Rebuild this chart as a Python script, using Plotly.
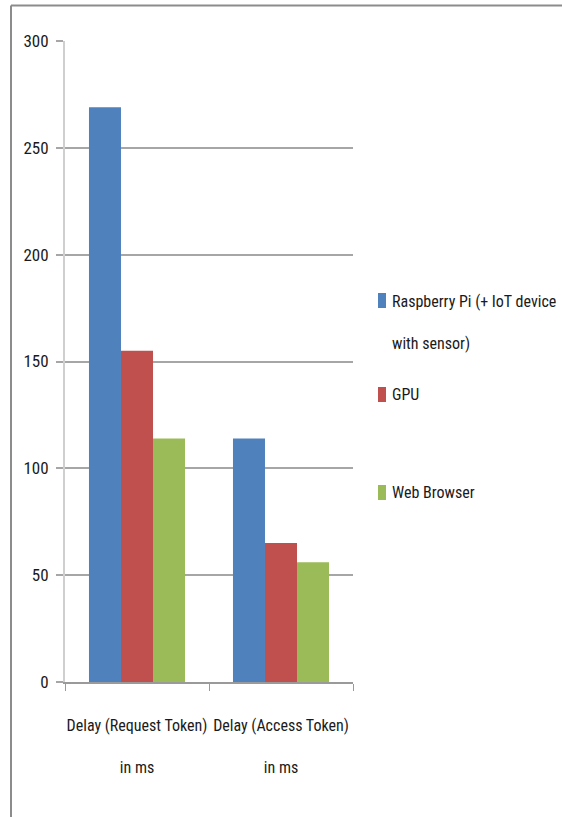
import plotly.graph_objects as go

# Delay measurements (ms) per token phase and client type
categories = ["Delay (Request Token)<br><br>in ms", "Delay (Access Token)<br><br>in ms"]
series_names = ["Raspberry Pi (+ IoT device<br><br>with sensor)", "GPU", "Web Browser"]
raspberry_pi = [269, 114]
gpu = [155, 65]
web_browser = [114, 56]
colors = ["#4F81BD", "#C0504D", "#9BBB59"]
y_ticks = [0, 50, 100, 150, 200, 250, 300]

W, H = 562, 817
L, R, T, B = 65, 209, 41, 135

font = "Roboto Condensed, Liberation Sans Narrow, sans-serif"
text_color = "#1a1a1a"


def px_to_paper_x(px):
    return (px - L) / (W - L - R)


def px_to_paper_y(py):
    return (H - B - py) / (H - B - T)


fig = go.Figure()
for name, vals, col in zip(series_names, [raspberry_pi, gpu, web_browser], colors):
    fig.add_trace(go.Bar(
        x=categories, y=vals, name=name, showlegend=False,
        marker=dict(color=col, line=dict(width=0)),
    ))

# Legend drawn at the right of the plot: colour key + label per series
legend_rows_px = [322, 394.5, 492.5]     # vertical centre of each label block
legend_keys_px = [300.5, 394.5, 492.5]   # vertical centre of each colour key
for name, col, row, key in zip(series_names, colors, legend_rows_px, legend_keys_px):
    fig.add_shape(type="rect", xref="paper", yref="paper",
                  x0=px_to_paper_x(378), x1=px_to_paper_x(386),
                  y0=px_to_paper_y(key + 7.5), y1=px_to_paper_y(key - 7.5),
                  fillcolor=col, line=dict(width=0))
    fig.add_annotation(xref="paper", yref="paper",
                       x=px_to_paper_x(390), y=px_to_paper_y(row),
                       xanchor="left", yanchor="middle", align="left",
                       text=name, showarrow=False,
                       font=dict(family=font, size=16, color=text_color))

# Outer frame lines (top and left edges)
frame = dict(color="#8c8c8c", width=2)
fig.add_shape(type="line", xref="paper", yref="paper",
              x0=px_to_paper_x(11), x1=px_to_paper_x(562),
              y0=px_to_paper_y(5.5), y1=px_to_paper_y(5.5), line=frame)
fig.add_shape(type="line", xref="paper", yref="paper",
              x0=px_to_paper_x(11), x1=px_to_paper_x(11),
              y0=px_to_paper_y(5.5), y1=px_to_paper_y(817), line=frame)

fig.update_layout(
    width=W, height=H,
    margin=dict(l=L, r=R, t=T, b=B, pad=0, autoexpand=False),
    paper_bgcolor="white", plot_bgcolor="white",
    barmode="group", bargap=0.333, bargroupgap=0,
    font=dict(family=font, size=16, color=text_color),
    showlegend=False,
    xaxis=dict(
        type="category", range=[-0.5, 1.5], automargin=False,
        showline=True, linecolor="#9a9a9a", linewidth=2,
        ticks="outside", tickson="boundaries", ticklen=7,
        tickcolor="#9a9a9a", tickwidth=1, tickangle=0,
        ticklabelstandoff=28,
        showgrid=False, tickfont=dict(size=16),
    ),
    yaxis=dict(
        range=[0, 300], tickvals=y_ticks, automargin=False,
        showline=True, linecolor="#cfcfcf", linewidth=2,
        showgrid=True, gridcolor="#a6a6a6", gridwidth=1.5,
        ticks="outside", ticklen=7, tickcolor="#a6a6a6", tickwidth=1.5,
        ticklabelstandoff=4,
        tickfont=dict(size=17), zeroline=False,
    ),
)

fig.write_html("out.html")
